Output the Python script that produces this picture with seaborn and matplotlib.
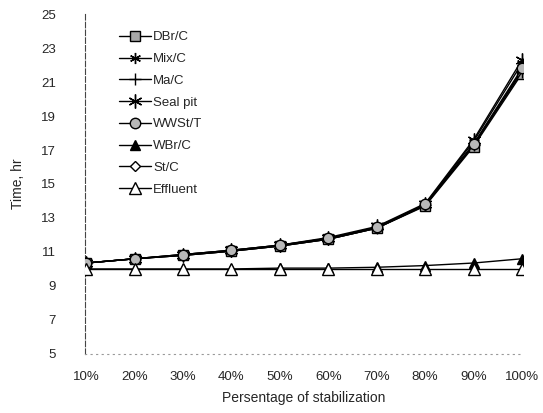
import pandas as pd
import numpy as np
import matplotlib.pyplot as plt
import seaborn as sns

# Data
stabilization = ['10%', '20%', '30%', '40%', '50%', '60%', '70%', '80%', '90%', '100%']

dbr_c = [10.35, 10.6, 10.8, 11.05, 11.35, 11.75, 12.4, 13.7, 17.2, 21.5]
mix_c = [10.35, 10.6, 10.85, 11.1, 11.4, 11.8, 12.45, 13.8, 17.5, 22.1]
ma_c = [10.35, 10.6, 10.8, 11.05, 11.35, 11.75, 12.4, 13.75, 17.3, 21.6]
seal_pit = [10.35, 10.6, 10.85, 11.1, 11.4, 11.85, 12.5, 13.85, 17.6, 22.3]
wwst_t = [10.35, 10.6, 10.85, 11.1, 11.4, 11.8, 12.45, 13.8, 17.35, 21.8]
wbr_c = [10.0, 10.0, 10.0, 10.0, 10.05, 10.05, 10.1, 10.2, 10.35, 10.6]
st_c = [10.35, 10.6, 10.8, 11.05, 11.35, 11.75, 12.4, 13.75, 17.3, 21.7]
effluent = [10.0, 10.0, 10.0, 10.0, 10.0, 10.0, 10.0, 10.0, 10.0, 10.0]

series = {
    'DBr/C': dbr_c,
    'Mix/C': mix_c,
    'Ma/C': ma_c,
    'Seal pit': seal_pit,
    'WWSt/T': wwst_t,
    'WBr/C': wbr_c,
    'St/C': st_c,
    'Effluent': effluent,
}

# marker, face colour, size, zorder
styles = {
    'DBr/C': ('s', '#a8a8a8', 7.5, 3),
    'Mix/C': ((6, 2, 0), 'black', 8, 4),
    'Ma/C': ('+', 'black', 9, 4),
    'Seal pit': ((6, 2, 0), 'black', 10, 4),
    'WWSt/T': ('o', '#b8b8b8', 7.5, 5),
    'WBr/C': ('^', 'black', 7, 3),
    'St/C': ('D', 'white', 5, 2),
    'Effluent': ('^', 'white', 8, 6),
}

sns.set_style('white')
plt.rcParams['font.family'] = ['Liberation Sans', 'DejaVu Sans']

fig = plt.figure(figsize=(5.43, 4.13), dpi=100)
ax = fig.add_axes([0.157, 0.143, 0.806, 0.823])

for name, vals in series.items():
    df = pd.DataFrame({'x': stabilization, 'y': vals})
    m, fc, ms, z = styles[name]
    sns.lineplot(data=df, x='x', y='y', ax=ax, color='black', linewidth=1.0,
                 marker=m, markersize=ms, markerfacecolor=fc,
                 markeredgecolor='black', markeredgewidth=1.0, label=name,
                 sort=False, zorder=z)

ax.set_xlim(-0.02, 9.02)
ax.set_ylim(5, 25)
ax.set_yticks(np.arange(5, 26, 2))
ax.set_yticks(np.arange(5, 26, 1), minor=True)
ax.tick_params(axis='y', which='major', length=3, width=0.6, color='#555555',
               labelsize=9.5, pad=18)
ax.tick_params(axis='y', which='minor', length=2, width=0.5, color='#777777')
ax.tick_params(axis='x', length=0, labelsize=9.5, pad=12)
ax.set_xlabel('Persentage of stabilization', fontsize=10, labelpad=6)
ax.set_ylabel('Time, hr', fontsize=10, labelpad=12)

for s in ['top', 'right']:
    ax.spines[s].set_visible(False)
ax.spines['left'].set_linestyle((0, (5, 2)))
ax.spines['left'].set_color('#444444')
ax.spines['left'].set_linewidth(0.8)
ax.spines['bottom'].set_linestyle((0, (1, 4)))
ax.spines['bottom'].set_color('#999999')
ax.spines['bottom'].set_linewidth(0.8)

ax.legend(loc='upper left', bbox_to_anchor=(0.065, 0.965), frameon=False,
          fontsize=9.5, handlelength=2.4, handletextpad=0.2, labelspacing=0.72,
          borderaxespad=0)

fig.savefig('out.png', dpi=100)
